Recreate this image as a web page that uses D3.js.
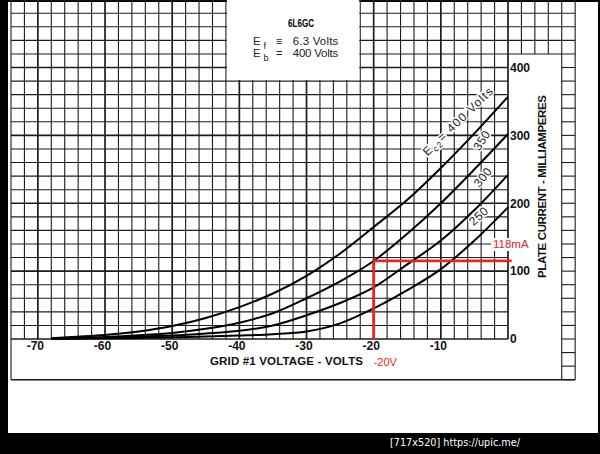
<!DOCTYPE html>
<html><head><meta charset="utf-8">
<script src="https://cdn.jsdelivr.net/npm/d3@7"></script>
<style>html,body{margin:0;padding:0;background:#000;}svg{display:block;}</style>
</head><body>
<script>
// ---- data ----
const volts   = [-68, -65, -60, -55, -50, -45, -40, -35, -30, -25, -20, -15, -10, -5, 0];
const ec2_400 = [1, 3, 6, 11, 19, 31, 47, 67, 93, 126, 165, 205, 252, 303, 357];
const ec2_350 = [0.5, 1.5, 3, 5.5, 9, 15, 24, 38, 60, 85, 115, 155, 200, 250, 302];
const ec2_300 = [0.3, 1, 2, 3.5, 5, 8, 12, 20, 35, 53, 76, 110, 145, 190, 242];
const ec2_250 = [0.2, 0.5, 1, 1.5, 2.5, 3.5, 5, 7, 11, 23, 45, 72, 103, 145, 194];
const seriesNames = ["400", "350", "300", "250"];
const xTicks = [-70, -60, -50, -40, -30, -20, -10];
const yTicks = [0, 100, 200, 300, 400];
const opVolts = -20, opCurrent = 115;
const opLabelV = "-20V", opLabelI = "118mA";

const W = 600, H = 454;
const svg = d3.select("body").append("svg").attr("width", W).attr("height", H);
svg.append("rect").attr("width", W).attr("height", H).attr("fill", "#000");
svg.append("rect").attr("x", 8).attr("y", 2).attr("width", 590).attr("height", 431).attr("fill", "#fff");

const x = d3.scaleLinear([-74, 0], [11, 508]);
const y = d3.scaleLinear([0, 400], [339, 67.5]);

const g = svg.append("g");
const ink = "#1c1c1c";

// vertical grid lines
const gridV = d3.range(-74, 10.01, 2);
gridV.forEach(v => {
  const heavy = v % 10 === 0 && v <= 0;
  if (v <= 0) {
    g.append("line").attr("x1", x(v)).attr("x2", x(v)).attr("y1", y(500)).attr("y2", v === -74 ? y(-60) : y(0))
      .attr("stroke", ink).attr("stroke-width", heavy ? 1.7 : 1.1);
  } else {
    const bottom = v >= 8 ? y(-60) : y(420);
    g.append("line").attr("x1", x(v)).attr("x2", x(v)).attr("y1", y(500)).attr("y2", bottom)
      .attr("stroke", ink).attr("stroke-width", 1.1);
  }
});
// horizontal grid lines
const gridH = d3.range(-60, 500.01, 20);
gridH.forEach(i => {
  const heavy = i % 100 === 0;
  if (i >= 0) {
    const right = i >= 420 ? 10 : 0;
    g.append("line").attr("x1", x(-74)).attr("x2", x(right)).attr("y1", y(i)).attr("y2", y(i))
      .attr("stroke", ink).attr("stroke-width", heavy ? 1.7 : 1.1);
  }
  if (i < 420) {
    g.append("line").attr("x1", x(8)).attr("x2", x(10)).attr("y1", y(i)).attr("y2", y(i))
      .attr("stroke", ink).attr("stroke-width", 1.1);
  }
});
// bottom frame
g.append("line").attr("x1", x(-74)).attr("x2", x(10)).attr("y1", y(-60)).attr("y2", y(-60))
  .attr("stroke", ink).attr("stroke-width", 1.6);

// title box
g.append("rect").attr("x", x(-42) + 1).attr("y", 0).attr("width", x(-22) - x(-42) - 2).attr("height", y(380) - 1)
  .attr("fill", "#fff");
const tf = "'Liberation Sans', Arial, sans-serif";
svg.append("text").attr("x", 288).attr("y", 27).attr("font-family", tf).attr("font-weight", "bold")
  .attr("font-size", 10.5).attr("textLength", 26).attr("lengthAdjust", "spacingAndGlyphs").text("6L6GC");
function paramLine(base, sub, sym, rest) {
  const t = svg.append("g").attr("font-family", tf).attr("fill", "#222");
  t.append("text").attr("x", 253).attr("y", base).attr("font-size", 11.5).text("E");
  t.append("text").attr("x", 263.5).attr("y", base + 3.5).attr("font-size", 9).text(sub);
  t.append("text").attr("x", 276).attr("y", base).attr("font-size", 11).text(sym);
  t.append("text").attr("x", 292.7).attr("y", base).attr("font-size", 11.5)
    .attr("textLength", 45.6).attr("lengthAdjust", "spacing").text(rest);
}
paramLine(45, "f", "\u2261", "6.3 Volts");
paramLine(57, "b", "=", "400 Volts");

// curves
const allSeries = [ec2_400, ec2_350, ec2_300, ec2_250];
const line = d3.line().x(d => x(d[0])).y(d => y(d[1])).curve(d3.curveMonotoneX);
allSeries.forEach(s => {
  g.append("path").attr("d", line(volts.map((v, k) => [v, s[k]])))
    .attr("fill", "none").attr("stroke", "#000").attr("stroke-width", 2);
});

// curve labels (position in chart units, angle)
const lf = "'Liberation Sans', Arial, sans-serif";
const labelPos = [[-7.4, 321, -44], [-3.9, 292.5, -57], [-3.75, 238.5, -51], [-4.35, 181, -42]];
seriesNames.forEach((n, k) => {
  const [lv, li, ang] = labelPos[k];
  const t = svg.append("text").attr("font-family", lf).attr("font-size", 12).attr("fill", "#222")
    .attr("letter-spacing", k === 0 ? 1.2 : 0.4).attr("text-anchor", "middle")
    .attr("stroke", "#fff").attr("stroke-width", 3).attr("paint-order", "stroke")
    .attr("transform", `translate(${x(lv)},${y(li)}) rotate(${ang})`).attr("dy", 4);
  if (k === 0) {
    t.append("tspan").text("E");
    t.append("tspan").attr("font-size", 8.5).attr("dy", 3).text("c2");
    t.append("tspan").attr("dy", -3).text("= " + n + " Volts");
  } else {
    t.text(n);
  }
});

// axis labels
const af = "'Liberation Sans', Arial, sans-serif";
xTicks.forEach(v => {
  svg.append("text").attr("x", x(v) - 2.5).attr("y", 350).attr("text-anchor", "middle")
    .attr("font-family", af).attr("font-weight", "bold").attr("font-size", 12).attr("fill", "#111").text(v);
});
yTicks.forEach(i => {
  svg.append("text").attr("x", 510).attr("y", y(i) + 4.3)
    .attr("font-family", af).attr("font-weight", "bold").attr("font-size", 12).attr("fill", "#111").text(i);
});
svg.append("text").attr("x", 210).attr("y", 365).attr("font-family", af).attr("font-weight", "bold")
  .attr("font-size", 11.5).attr("fill", "#111").attr("textLength", 153).attr("lengthAdjust", "spacing")
  .text("GRID #1 VOLTAGE - VOLTS");
svg.append("text").attr("transform", "translate(545.5,186.5) rotate(-90)").attr("text-anchor", "middle")
  .attr("font-family", af).attr("font-weight", "bold").attr("font-size", 11.5).attr("fill", "#111")
  .attr("textLength", 183).attr("lengthAdjust", "spacing").text("PLATE CURRENT - MILLIAMPERES");

// red operating point annotation
const red = "#e82424";
svg.append("line").attr("x1", x(opVolts)).attr("x2", x(0.55)).attr("y1", y(opCurrent)).attr("y2", y(opCurrent))
  .attr("stroke", red).attr("stroke-width", 2.8);
svg.append("line").attr("x1", x(opVolts)).attr("x2", x(opVolts)).attr("y1", y(opCurrent) - 1.4).attr("y2", y(0))
  .attr("stroke", red).attr("stroke-width", 2.8);
svg.append("rect").attr("x", 491).attr("y", 238).attr("width", 38).attr("height", 13).attr("fill", "#fff");
svg.append("text").attr("x", 493).attr("y", 248).attr("font-family", af).attr("font-size", 11.5)
  .attr("fill", red).text(opLabelI);
svg.append("text").attr("x", x(opVolts)).attr("y", 366).attr("font-family", af).attr("font-size", 11)
  .attr("fill", red).text(opLabelV);

// black band caption
svg.append("text").attr("x", 390).attr("y", 446).attr("font-family", "'DejaVu Sans', sans-serif")
  .attr("font-size", 11).attr("fill", "#fff").attr("textLength", 130).attr("lengthAdjust", "spacingAndGlyphs")
  .text("[717x520] https://upic.me/");
</script>
</body></html>
